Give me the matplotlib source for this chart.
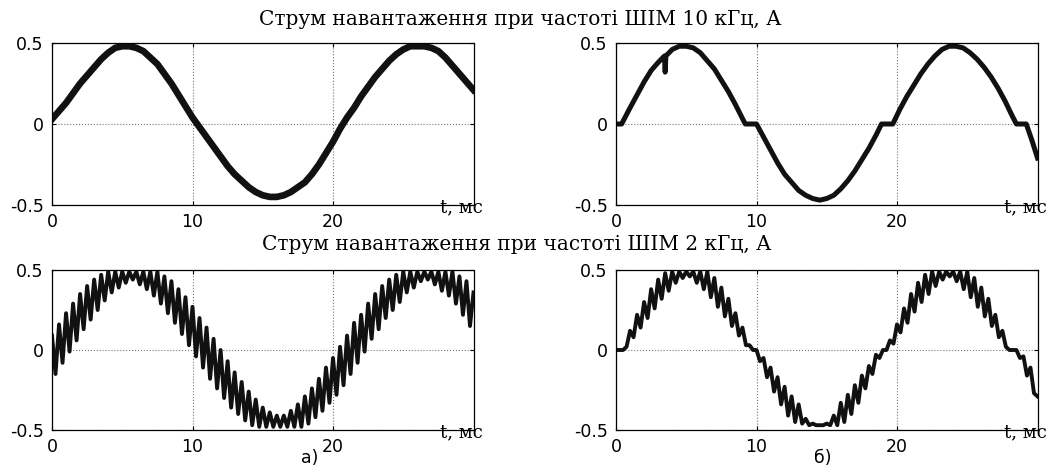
import numpy as np
import matplotlib
matplotlib.use('Agg')
import matplotlib.pyplot as plt

plt.rcParams['axes.unicode_minus'] = False

# ---- data (current, A; time, ms) ----
# 10 kHz PWM, variant a) - sampled every 0.5 ms
t_a10 = np.arange(0, 30.01, 0.5)
i_a10 = [0.03, 0.08, 0.13, 0.19, 0.25, 0.30, 0.35, 0.40, 0.44, 0.47,
         0.48, 0.48, 0.47, 0.45, 0.41, 0.37, 0.31, 0.25, 0.18, 0.11,
         0.04, -0.02, -0.08, -0.14, -0.20, -0.26, -0.31, -0.35, -0.39, -0.42,
         -0.44, -0.45, -0.45, -0.44, -0.42, -0.39, -0.36, -0.31, -0.25, -0.18,
         -0.11, -0.03, 0.04, 0.10, 0.17, 0.23, 0.29, 0.34, 0.39, 0.43,
         0.46, 0.48, 0.48, 0.48, 0.47, 0.45, 0.41, 0.36, 0.31, 0.26,
         0.21]

# 10 kHz PWM, variant б) - with zero-current pauses
t_b10 = [0, 0.4, 1.0, 1.5, 2.0, 2.5, 3.0, 3.45, 3.5, 3.55, 4.0, 4.5, 5.0, 5.5,
         6.0, 6.5, 7.0, 7.5, 8.0, 8.5, 9.2, 10.0, 10.5, 11.0, 11.5, 12.0,
         12.5, 13.0, 13.5, 14.0, 14.5, 15.0, 15.5, 16.0, 16.5, 17.0, 17.5,
         18.0, 18.5, 18.9, 19.7, 20.2, 20.7, 21.2, 21.7, 22.2, 22.7, 23.2,
         23.7, 24.2, 24.7, 25.2, 25.7, 26.2, 26.7, 27.2, 27.7, 28.2, 28.5,
         29.2, 29.6, 30.0]
i_b10 = [0, 0, 0.10, 0.18, 0.26, 0.33, 0.38, 0.42, 0.32, 0.42, 0.46, 0.48,
         0.48, 0.47, 0.44, 0.39, 0.34, 0.27, 0.20, 0.12, 0, 0, -0.08, -0.16,
         -0.24, -0.31, -0.36, -0.41, -0.44, -0.46, -0.47, -0.46, -0.44,
         -0.40, -0.35, -0.29, -0.22, -0.15, -0.07, 0, 0, 0.09, 0.17, 0.24,
         0.31, 0.37, 0.42, 0.46, 0.48, 0.48, 0.47, 0.44, 0.40, 0.35, 0.29,
         0.22, 0.14, 0.05, 0, 0, -0.10, -0.21]

# 2 kHz PWM - sampled every 0.25 ms (ripple tops and bottoms)
t_2k = np.arange(0, 30.01, 0.25)
i_a2 = [0.09, -0.15, 0.16, -0.08, 0.23, -0.01, 0.29, 0.06, 0.35, 0.13,
        0.40, 0.19, 0.44, 0.25, 0.47, 0.31, 0.49, 0.36, 0.49, 0.39,
        0.49, 0.42, 0.49, 0.44, 0.49, 0.41, 0.49, 0.38, 0.49, 0.34,
        0.49, 0.29, 0.46, 0.23, 0.43, 0.17, 0.38, 0.10, 0.33, 0.03,
        0.27, -0.04, 0.20, -0.11, 0.14, -0.18, 0.07, -0.24, 0.00, -0.30,
        -0.07, -0.36, -0.14, -0.40, -0.20, -0.44, -0.26, -0.47, -0.31, -0.48,
        -0.36, -0.48, -0.39, -0.48, -0.41, -0.48, -0.41, -0.48, -0.38, -0.48,
        -0.34, -0.48, -0.29, -0.46, -0.24, -0.42, -0.18, -0.38, -0.11, -0.33,
        -0.05, -0.28, 0.02, -0.22, 0.09, -0.15, 0.17, -0.08, 0.22, -0.01,
        0.29, 0.07, 0.35, 0.13, 0.40, 0.20, 0.44, 0.25, 0.47, 0.30,
        0.49, 0.36, 0.49, 0.39, 0.49, 0.43, 0.49, 0.44, 0.49, 0.41,
        0.49, 0.37, 0.49, 0.34, 0.49, 0.29, 0.46, 0.22, 0.43, 0.15,
        0.36]
i_b2 = [0, 0, 0, 0.02, 0.12, 0.08, 0.22, 0.14, 0.30, 0.20,
        0.38, 0.26, 0.44, 0.32, 0.48, 0.37, 0.49, 0.42, 0.49, 0.45,
        0.49, 0.46, 0.49, 0.42, 0.49, 0.38, 0.49, 0.33, 0.45, 0.27,
        0.39, 0.21, 0.32, 0.15, 0.23, 0.09, 0.14, 0.03, 0.03, 0,
        0, -0.07, -0.05, -0.17, -0.11, -0.26, -0.17, -0.34, -0.23, -0.41,
        -0.29, -0.45, -0.34, -0.46, -0.43, -0.47, -0.46, -0.47, -0.47, -0.47,
        -0.46, -0.47, -0.41, -0.47, -0.33, -0.45, -0.28, -0.40, -0.22, -0.33,
        -0.16, -0.24, -0.10, -0.15, -0.03, -0.05, 0, 0, 0.06, 0.04,
        0.16, 0.11, 0.26, 0.17, 0.35, 0.24, 0.42, 0.30, 0.47, 0.35,
        0.49, 0.40, 0.49, 0.44, 0.49, 0.46, 0.49, 0.43, 0.49, 0.38,
        0.49, 0.33, 0.45, 0.27, 0.39, 0.21, 0.32, 0.15, 0.22, 0.08,
        0.12, 0.02, 0, 0, 0, -0.05, -0.04, -0.16, -0.11, -0.27,
        -0.29]

x_ticks = [0, 10, 20]
y_ticks = [-0.5, 0, 0.5]
y_tick_labels = ['-0.5', '0', '0.5']
title_10k = 'Струм навантаження при частоті ШІМ 10 кГц, А'
title_2k = 'Струм навантаження при частоті ШІМ 2 кГц, А'
serif = 'DejaVu Serif'
sans = 'DejaVu Sans'


def style_axes(ax):
    """MATLAB-like axes: inward ticks, dotted grid, unit label at the corner"""
    ax.set_xlim(0, 30)
    ax.set_ylim(-0.5, 0.5)
    ax.set_xticks(x_ticks)
    ax.set_yticks(y_ticks)
    ax.set_yticklabels(y_tick_labels)
    ax.tick_params(direction='in', length=3, width=0.8, top=True, right=True,
                   labelsize=12.5, pad=6)
    for lab in ax.get_xticklabels() + ax.get_yticklabels():
        lab.set_family(sans)
    ax.grid(True, linestyle=':', color='#777777', linewidth=0.8)
    for sp in ax.spines.values():
        sp.set_linewidth(0.9)
    ax.text(1.022, -0.045, 't, мс', transform=ax.transAxes, ha='right',
            va='baseline', family=serif, fontsize=13)


fig = plt.figure(figsize=(10.61, 4.70), dpi=100)
w = 421.5 / 1061
ax_a10 = fig.add_axes([52 / 1061, 1 - 205 / 470, w, 162 / 470])
ax_b10 = fig.add_axes([616 / 1061, 1 - 205 / 470, w, 162 / 470])
ax_a2 = fig.add_axes([52 / 1061, 1 - 430 / 470, w, 160 / 470])
ax_b2 = fig.add_axes([616 / 1061, 1 - 430 / 470, w, 160 / 470])

ax_a10.plot(t_a10, i_a10, color='#111111', linewidth=4.8, solid_joinstyle='round')
ax_b10.plot(t_b10, i_b10, color='#111111', linewidth=3.6, solid_joinstyle='round')
ax_a2.plot(t_2k, i_a2, color='#111111', linewidth=2.8, solid_joinstyle='round')
ax_b2.plot(t_2k, i_b2, color='#111111', linewidth=2.8, solid_joinstyle='round')

for ax in (ax_a10, ax_b10, ax_a2, ax_b2):
    style_axes(ax)

fig.text(520 / 1061, 1 - 25 / 470, title_10k, ha='center', va='baseline',
         family=serif, fontsize=14.5)
fig.text(517 / 1061, 1 - 250 / 470, title_2k, ha='center', va='baseline',
         family=serif, fontsize=14.5)
fig.text(310 / 1061, 1 - 458 / 470, 'а)', ha='center', va='center',
         family=sans, fontsize=12.5)
fig.text(823 / 1061, 1 - 458 / 470, 'б)', ha='center', va='center',
         family=sans, fontsize=12.5)

fig.savefig('out.png', dpi=100)
